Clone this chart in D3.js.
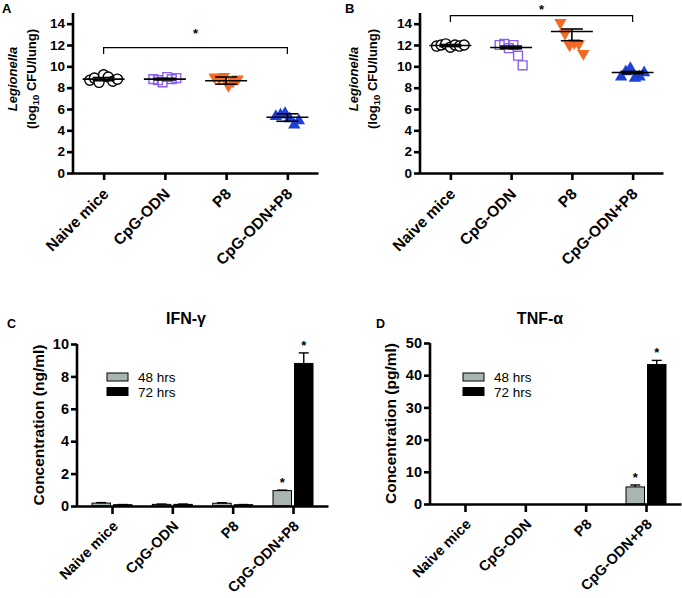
<!DOCTYPE html>
<html><head><meta charset="utf-8">
<script src="https://cdn.jsdelivr.net/npm/d3@7"></script>
<style>body{margin:0;background:#fff} svg{display:block} text{font-family:"Liberation Sans",Arial,sans-serif}</style>
</head><body><svg id="c" width="682" height="598"></svg>
<script>
// ---------- DATA ----------
const categories = ["Naive mice","CpG-ODN","P8","CpG-ODN+P8"];
const cfuTicks = [0,2,4,6,8,10,12,14];
// Panel A (log10 CFU/lung)
const aNaive = [8.7, 8.9, 8.5, 9.2, 9.0, 8.6, 8.8];
const aCpg   = [8.8, 8.7, 8.5, 9.0, 8.8, 8.9];
const aP8    = [9.0, 8.9, 9.05, 8.2, 8.6, 8.8];
const aCombo = [5.3, 5.45, 5.6, 5.1, 4.5, 4.9];
const aCenter = [8.8, 8.8, 8.65, 5.23];
const aLow    = [8.65, 8.72, 8.33, 4.85];
const aHigh   = [8.95, 8.88, 9.0, 5.55];
const aSig = {from:0, to:3, level:11.75, drop:0.6};
// Panel B
const bNaive = [11.9, 12.0, 12.1, 11.8, 12.0, 11.9, 12.0];
const bCpg   = [12.0, 12.1, 11.7, 12.0, 11.0, 10.1];
const bP8    = [14.1, 13.1, 12.0, 12.2, 12.1, 11.2];
const bCombo = [9.0, 9.5, 9.8, 8.9, 9.0, 9.4];
const bCenter = [11.95, 11.77, 13.27, 9.42];
const bLow    = [11.85, 11.65, 12.4, 9.3];
const bHigh   = [12.05, 11.9, 13.5, 9.52];
const bSig = {from:0, to:3, level:14.75, drop:0.6};
// Panels C, D
const seriesNames = ["48 hrs","72 hrs"];
const ifnTicks = [0,2,4,6,8,10];
const ifn48    = [0.18, 0.1, 0.17, 0.95];
const ifn48Err = [0.03, 0.02, 0.03, 0.03];
const ifn72    = [0.08, 0.1, 0.08, 8.8];
const ifn72Err = [0.01, 0.02, 0.01, 0.65];
const tnfTicks = [0,10,20,30,40,50];
const tnf48    = [0, 0, 0, 5.3];
const tnf48Err = [0, 0, 0, 0.6];
const tnf72    = [0, 0, 0, 43.3];
const tnf72Err = [0, 0, 0, 1.3];
const starIndex = 3;

// ---------- DRAW ----------
const svg = d3.select("#c");
const FONT = '"Liberation Sans",Arial,sans-serif';
const markerStyles = [
  {type:d3.symbolCircle, size:80, fill:"#fff", stroke:"#000", rot:0},
  {type:d3.symbolSquare, size:78, fill:"none", stroke:"#8d5ff0", rot:0},
  {type:d3.symbolTriangle, size:66, fill:"#f26a24", stroke:"none", rot:180},
  {type:d3.symbolTriangle, size:66, fill:"#1f3fd9", stroke:"none", rot:0}
];

function styleAxis(ax, w){
  ax.selectAll("path.domain").attr("stroke","#000").attr("stroke-width",w);
  ax.selectAll(".tick line").attr("stroke","#000").attr("stroke-width",w);
}

function xLabels(g, x, yAxis, dx, dy, fs){
  categories.forEach(c=>{
    g.append("text").attr("transform",`translate(${x(c)+dx},${yAxis+dy}) rotate(-45)`)
      .attr("text-anchor","end").attr("font-weight","bold").attr("font-size",fs).text(c);
  });
}

function scatterPanel(o){
  const g = svg.append("g");
  const x = d3.scalePoint().domain(categories).range([o.x0,o.x1]).padding(0.5);
  const y = d3.scaleLinear().domain([0,15]).range([o.y0,o.yTop]);
  o.groups.forEach((vals,gi)=>{
    const st = markerStyles[gi];
    const n = vals.length;
    vals.forEach((v,i)=>{
      const px = x(categories[gi]) + (i-(n-1)/2)*4.6;
      g.append("path").attr("d",d3.symbol().type(st.type).size(st.size)())
        .attr("transform",`translate(${px},${y(v)}) rotate(${st.rot})`)
        .attr("fill",st.fill).attr("stroke",st.stroke).attr("stroke-width",1.4);
    });
  });
  categories.forEach((c,i)=>{
    const cx = x(c);
    g.append("line").attr("x1",cx-21).attr("x2",cx+21).attr("y1",y(o.center[i])).attr("y2",y(o.center[i]))
      .attr("stroke","#000").attr("stroke-width",1.6);
    g.append("line").attr("x1",cx).attr("x2",cx).attr("y1",y(o.low[i])).attr("y2",y(o.high[i]))
      .attr("stroke","#000").attr("stroke-width",1.6);
    [o.low[i],o.high[i]].forEach(v=>{
      g.append("line").attr("x1",cx-11).attr("x2",cx+11).attr("y1",y(v)).attr("y2",y(v))
        .attr("stroke","#000").attr("stroke-width",1.6);
    });
  });
  const ay = g.append("g").attr("transform",`translate(${o.x0},0)`)
    .call(d3.axisLeft(y).tickValues(cfuTicks).tickSize(6).tickSizeOuter(0).tickPadding(2));
  ay.selectAll(".tick text").attr("font-weight","bold").attr("font-size",13.5).attr("fill","#000").style("font-family",FONT);
  styleAxis(ay,2.6);
  ay.select("path.domain").attr("d",`M0,${o.y0+1.3}V${o.yTop}`);
  const ax = g.append("g").attr("transform",`translate(0,${o.y0})`)
    .call(d3.axisBottom(x).tickSize(7).tickSizeOuter(0).tickFormat(""));
  styleAxis(ax,2.6);
  xLabels(g, x, o.y0, 6, 22, 15.5);
  const s = o.sig, sx1 = x(categories[s.from]), sx2 = x(categories[s.to]);
  g.append("path").attr("d",`M${sx1},${y(s.level-s.drop)}V${y(s.level)}H${sx2}V${y(s.level-s.drop)}`)
    .attr("fill","none").attr("stroke","#000").attr("stroke-width",1.2);
  g.append("text").attr("x",(sx1+sx2)/2).attr("y",y(s.level)+o.starDy).attr("text-anchor","middle")
    .attr("font-weight","bold").attr("font-size",13).text("*");
  const cy = 79;
  g.append("text").attr("transform",`translate(${o.lab1},${cy}) rotate(-90)`).attr("text-anchor","middle")
    .attr("font-weight","bold").attr("font-style","italic").attr("font-size",13).text("Legionella");
  const t2 = g.append("text").attr("transform",`translate(${o.lab2},${cy}) rotate(-90)`).attr("text-anchor","middle")
    .attr("font-weight","bold").attr("font-size",13);
  t2.append("tspan").text("(log");
  t2.append("tspan").attr("font-size",9.5).attr("dy",3).text("10");
  t2.append("tspan").attr("dy",-3).text(" CFU/lung)");
  g.append("text").attr("x",o.letterX).attr("y",13).attr("font-weight","bold").attr("font-size",13).text(o.letter);
}

scatterPanel({x0:73,x1:318,y0:173,yTop:13,groups:[aNaive,aCpg,aP8,aCombo],
  center:aCenter,low:aLow,high:aHigh,sig:aSig,starDy:-10,lab1:17,lab2:36,letter:"A",letterX:2});
scatterPanel({x0:420,x1:663,y0:173,yTop:13,groups:[bNaive,bCpg,bP8,bCombo],
  center:bCenter,low:bLow,high:bHigh,sig:bSig,starDy:-2,lab1:358,lab2:377,letter:"B",letterX:345});

function barPanel(o){
  const g = svg.append("g");
  const x = d3.scalePoint().domain(categories).range([o.x0,o.x1]).padding(0.58);
  const y = d3.scaleLinear().domain([0,o.ticks[o.ticks.length-1]]).range([o.y0,o.yTop]);
  const xs = d3.scaleBand().domain(seriesNames).range([-20,20]).paddingInner(0.14);
  const fills = ["#a8b5b2","#000"];
  const series = [[o.v48,o.e48],[o.v72,o.e72]];
  series.forEach(([vals,errs],si)=>{
    categories.forEach((c,i)=>{
      const bx = x(c)+xs(seriesNames[si]);
      const bw = xs.bandwidth();
      if (vals[i] > 0) {
        g.append("rect").attr("x",bx).attr("width",bw).attr("y",y(vals[i])).attr("height",y(0)-y(vals[i]))
          .attr("fill",fills[si]).attr("stroke","#000").attr("stroke-width",1);
        if (errs[i] > 0) {
          const cx = bx+bw/2;
          g.append("line").attr("x1",cx).attr("x2",cx).attr("y1",y(vals[i])).attr("y2",y(vals[i]+errs[i]))
            .attr("stroke","#000").attr("stroke-width",1.4);
          g.append("line").attr("x1",cx-5).attr("x2",cx+5).attr("y1",y(vals[i]+errs[i])).attr("y2",y(vals[i]+errs[i]))
            .attr("stroke","#000").attr("stroke-width",1.4);
        }
      }
      if (i===starIndex) {
        g.append("text").attr("x",bx+bw/2).attr("y",y(vals[i]+errs[i])-3).attr("text-anchor","middle")
          .attr("font-weight","bold").attr("font-size",13).text("*");
      }
    });
  });
  const ay = g.append("g").attr("transform",`translate(${o.x0},0)`)
    .call(d3.axisLeft(y).tickValues(o.ticks).tickSize(6).tickSizeOuter(0).tickPadding(2));
  ay.selectAll(".tick text").attr("font-weight","bold").attr("font-size",14.5).attr("fill","#000").style("font-family",FONT);
  styleAxis(ay,2.6);
  ay.select("path.domain").attr("d",`M0,${o.y0+1.3}V${o.yTop}`);
  const ax = g.append("g").attr("transform",`translate(0,${o.y0})`)
    .call(d3.axisBottom(x).tickSize(8).tickSizeOuter(0).tickFormat(""));
  styleAxis(ax,2.6);
  xLabels(g, x, o.y0, 7, 21, 14.5);
  g.append("text").attr("transform",`translate(${o.labX},${(o.y0+o.yTop)/2}) rotate(-90)`).attr("text-anchor","middle")
    .attr("font-weight","bold").attr("font-size",15.5).text(o.ylabel);
  g.append("text").attr("x",o.titleX).attr("y",324).attr("text-anchor","middle")
    .attr("font-weight","bold").attr("font-size",16).text(o.title);
  g.append("text").attr("x",o.letterX).attr("y",328).attr("font-weight","bold").attr("font-size",12.5).text(o.letter);
  seriesNames.forEach((s,si)=>{
    g.append("rect").attr("x",o.legX).attr("y",373+si*14.5).attr("width",21).attr("height",8)
      .attr("fill",fills[si]).attr("stroke","#000").attr("stroke-width",1);
    g.append("text").attr("x",o.legX+31).attr("y",382+si*14.5).attr("font-size",13.5).text(s);
  });
}

barPanel({x0:77,x1:328,y0:506,yTop:344,ticks:ifnTicks,v48:ifn48,e48:ifn48Err,v72:ifn72,e72:ifn72Err,
  ylabel:"Concentration (ng/ml)",labX:44,title:"IFN-γ",titleX:186,letter:"C",letterX:7,legX:107});
barPanel({x0:430,x1:681,y0:504,yTop:343,ticks:tnfTicks,v48:tnf48,e48:tnf48Err,v72:tnf72,e72:tnf72Err,
  ylabel:"Concentration (pg/ml)",labX:396,title:"TNF-α",titleX:540,letter:"D",letterX:376,legX:463});
</script></body></html>
